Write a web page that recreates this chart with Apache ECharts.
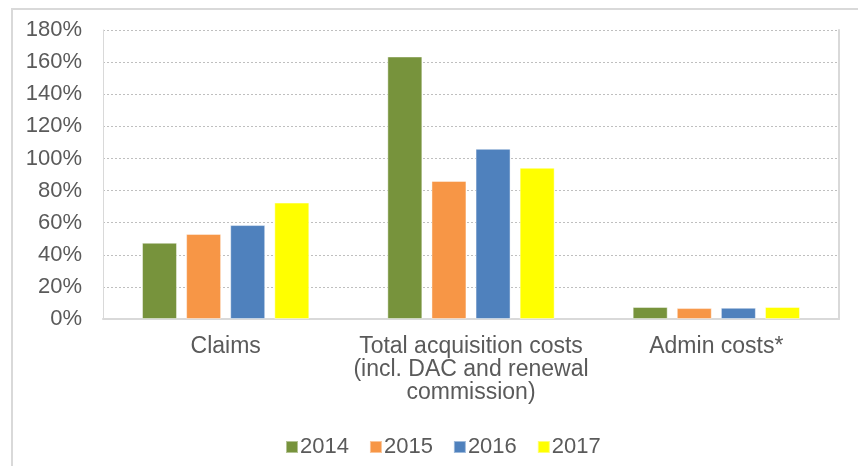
<!DOCTYPE html>
<html>
<head>
<meta charset="utf-8">
<script src="https://cdn.jsdelivr.net/npm/echarts@6/dist/echarts.min.js"></script>
<style>
  html, body { margin: 0; padding: 0; background: #fff; }
  #frame {
    position: absolute; left: 11px; top: 8px; width: 900px; height: 500px;
    border-top: 2px solid #d9d9d9; border-left: 2px solid #d9d9d9;
  }
  #main { position: absolute; left: 0; top: 0; width: 858px; height: 466px; }
</style>
</head>
<body>
<div id="frame"></div>
<div id="main"></div>
<script>
// categories and values (percent)
const categories = ['Claims', 'Total acquisition costs\n(incl. DAC and renewal\ncommission)', 'Admin costs*'];
const years = ['2014', '2015', '2016', '2017'];
const colors = ['#77933C', '#F79646', '#4F81BD', '#FFFF00'];
const values2014 = [47.5, 163.5, 7.5];
const values2015 = [53, 86, 6.8];
const values2016 = [58.5, 106, 7];
const values2017 = [72.5, 94.2, 7.5];
const allValues = [values2014, values2015, values2016, values2017];

const font = 'Liberation Sans, Arial, sans-serif';
const textColor = '#5a5a5a';

let myChart = echarts.init(document.getElementById('main'), null, { renderer: 'canvas' });

const option = {
  animation: false,
  textStyle: { fontFamily: font },
  grid: { left: 103, right: 19, top: 30, bottom: 147 },
  legend: {
    data: years,
    left: 280,
    top: 431,
    itemWidth: 12,
    itemHeight: 12,
    itemGap: 20,
    icon: 'rect',
    textStyle: { fontSize: 22, color: textColor, fontFamily: font, padding: [0, 0, 0, -3] }
  },
  xAxis: {
    type: 'category',
    data: categories,
    axisTick: { show: false },
    axisLine: { lineStyle: { color: '#d9d9d9', width: 2 } },
    axisLabel: {
      fontSize: 23, color: textColor, lineHeight: 23, margin: 16,
      interval: 0, fontFamily: font
    }
  },
  yAxis: [
    {
      type: 'value',
      min: 0, max: 180, interval: 20,
      axisLine: { show: true, lineStyle: { color: '#d9d9d9', width: 1 } },
      axisTick: { show: false },
      axisLabel: { formatter: '{value}%', fontSize: 22, color: textColor, margin: 21, fontFamily: font },
      splitLine: { lineStyle: { color: '#bfbfbf', type: [2, 2], width: 1 } }
    },
    {
      type: 'value',
      position: 'right',
      min: 0, max: 180, interval: 20,
      axisLine: { show: true, lineStyle: { color: '#d9d9d9', width: 2 } },
      axisTick: { show: false },
      axisLabel: { show: false },
      splitLine: { show: false }
    }
  ],
  series: years.map((y, i) => ({
    name: y,
    type: 'bar',
    barWidth: 35,
    barGap: '26%',
    data: allValues[i],
    itemStyle: { color: colors[i], borderColor: 'rgba(255,255,255,0.45)', borderWidth: 1 }
  }))
};

myChart.setOption(option);
</script>
</body>
</html>
